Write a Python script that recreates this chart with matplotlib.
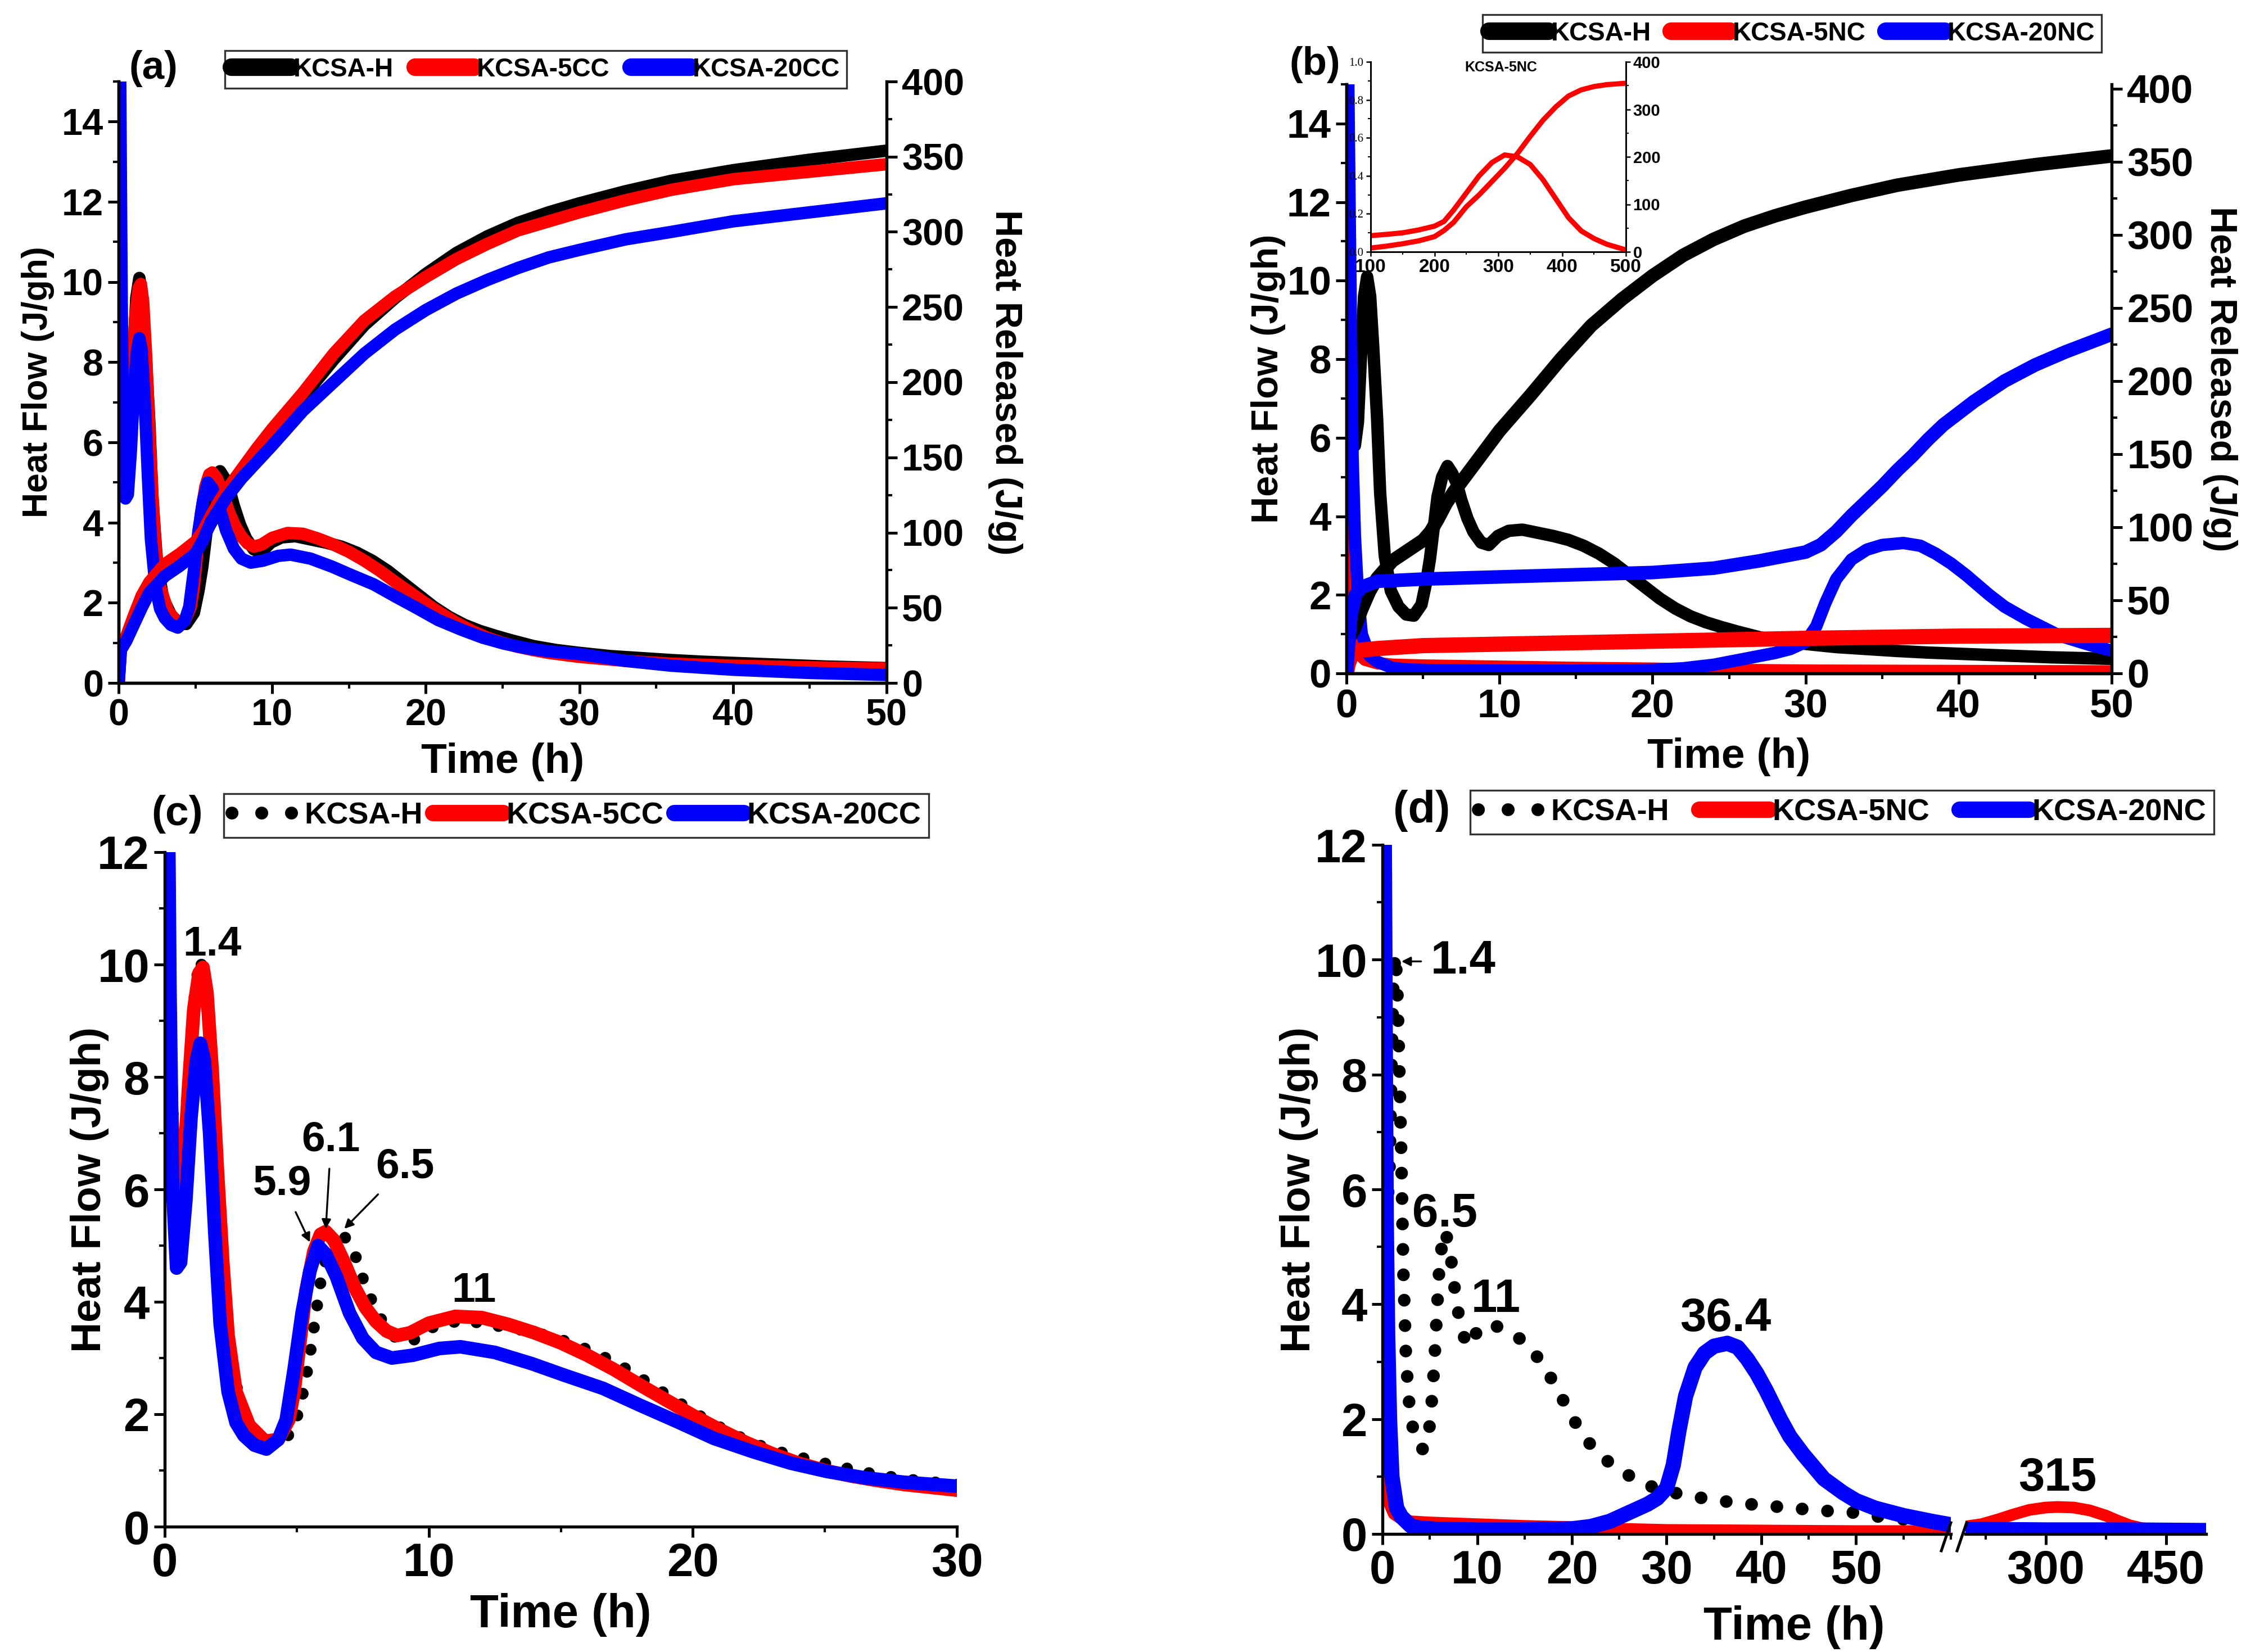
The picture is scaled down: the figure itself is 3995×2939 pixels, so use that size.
import matplotlib.pyplot as plt
from matplotlib.ticker import MultipleLocator
from matplotlib.lines import Line2D

plt.rcParams['font.weight'] = 'bold'
plt.rcParams['axes.labelweight'] = 'bold'
plt.rcParams['axes.linewidth'] = 1.3
plt.rcParams['lines.solid_joinstyle'] = 'round'
NARROW = ['Liberation Sans Narrow', 'Liberation Sans', 'DejaVu Sans']
WIDE = ['Liberation Sans', 'DejaVu Sans']
SERIF = ['Liberation Serif', 'DejaVu Serif']
plt.rcParams['font.family'] = WIDE

# ---------------- data ----------------
# KCSA-H heat flow (J/gh)
t_h = [0.03, 0.15, 0.35, 0.55, 0.75, 0.95, 1.15, 1.35, 1.55, 1.75, 2.0, 2.2, 2.5, 2.9, 3.4, 3.9, 4.4,
       4.9, 5.2, 5.45, 5.7, 5.95, 6.25, 6.6, 6.9, 7.2, 7.5, 7.9, 8.3, 8.8, 9.3, 9.9, 10.6, 11.5, 12.5,
       13.5, 14.5, 15.5, 16.5, 17.5, 18.5, 19.5, 20.5, 21.5, 22.5, 23.5, 24.5, 25.5, 27, 28.5, 30,
       32, 34, 36, 38, 40, 42, 44, 46, 48, 50, 52, 54, 56, 58]
hf_h = [14.5, 9.5, 6.8, 5.8, 6.4, 8.1, 9.6, 10.1, 9.6, 8.3, 6.5, 4.6, 3.0, 2.1, 1.7, 1.5, 1.47,
        1.75, 2.3, 2.9, 3.7, 4.5, 5.0, 5.28, 5.1, 4.85, 4.42, 3.95, 3.6, 3.33, 3.27, 3.5, 3.63, 3.66, 3.58,
        3.5, 3.4, 3.25, 3.05, 2.8, 2.5, 2.2, 1.9, 1.65, 1.45, 1.3, 1.18, 1.07, 0.92, 0.82, 0.75,
        0.67, 0.62, 0.57, 0.53, 0.5, 0.47, 0.44, 0.41, 0.39, 0.37, 0.31, 0.27, 0.24, 0.21]

# KCSA-5CC heat flow
t_5cc = [0.03, 0.1, 0.25, 0.4, 0.55, 0.7, 0.9, 1.1, 1.3, 1.45, 1.6, 1.8, 2.0, 2.2, 2.4, 2.7, 3.2,
         3.8, 4.3, 4.7, 4.9, 5.1, 5.35, 5.65, 5.9, 6.1, 6.4, 6.8, 7.2, 7.6, 8.0, 8.4, 8.8, 9.3, 10,
         11, 12, 13, 14, 15, 16, 17, 18, 19, 20, 21, 22, 23, 24, 25, 26, 27, 28, 29, 30, 33, 36, 40, 45, 50]
hf_5cc = [12.5, 10.5, 7.5, 6.0, 5.6, 6.2, 7.8, 9.2, 9.85, 9.95, 9.5, 8.1, 6.3, 4.7, 3.4, 2.4, 1.8,
          1.52, 1.55, 1.9, 2.4, 3.2, 4.2, 4.9, 5.2, 5.25, 5.1, 4.7, 4.25, 3.9, 3.65, 3.48, 3.4, 3.45, 3.62,
          3.74, 3.72, 3.6, 3.45, 3.27, 3.05, 2.8, 2.52, 2.25, 1.98, 1.73, 1.5, 1.3, 1.13, 1.0, 0.9, 0.82,
          0.75, 0.7, 0.65, 0.55, 0.48, 0.43, 0.39, 0.36]

# KCSA-20CC heat flow
t_20cc = [0.03, 0.1, 0.2, 0.3, 0.45, 0.6, 0.8, 1.0, 1.2, 1.35, 1.5, 1.7, 1.9, 2.1, 2.4, 2.7, 3.0,
          3.4, 3.85, 4.3, 4.6, 4.9, 5.2, 5.5, 5.8, 6.1, 6.5, 7.0, 7.5, 8.0, 8.6, 9.4, 10.4, 11.2, 12.5,
          13.9, 15.1, 16.6, 18.0, 19.4, 20.8, 22.3, 23.7, 25.1, 26.5, 28, 30, 33, 36, 40, 45, 50]
hf_20cc = [16, 15.2, 9.5, 6.0, 4.6, 4.7, 5.8, 7.3, 8.3, 8.6, 8.3, 7.0, 5.2, 3.6, 2.4, 1.85, 1.62,
           1.45, 1.38, 1.55, 1.9, 2.8, 3.8, 4.55, 5.0, 4.85, 4.45, 3.8, 3.35, 3.1, 3.0, 3.05, 3.17, 3.2, 3.1,
           2.9, 2.7, 2.46, 2.16, 1.87, 1.57, 1.33, 1.13, 0.98, 0.87, 0.79, 0.72, 0.55, 0.43, 0.33, 0.25, 0.2]

# cumulative heat released (J/g), panel (a) and KCSA-H in (b)
t_cum = [0, 0.15, 0.5, 1, 1.5, 2, 3, 4, 5, 5.5, 6, 6.5, 7, 8, 9, 10, 12, 14, 16, 18, 20, 22, 24, 26,
         28, 30, 33, 36, 40, 45, 50]
cum_h = [0, 24, 30, 44, 56, 65, 77, 84, 91, 97, 106, 116, 124, 138, 152, 166, 190, 215, 238, 256,
         272, 286, 297, 306, 313, 319, 327, 334, 341, 348, 354]
cum_5cc = [0, 25, 31, 45, 58, 67, 79, 86, 94, 101, 111, 120, 128, 142, 156, 169, 193, 219, 241, 257,
           270, 282, 292, 301, 307, 313, 321, 328, 335, 340, 345]
cum_20cc = [0, 22, 28, 39, 50, 60, 71, 78, 86, 95, 107, 115, 123, 136, 147, 158, 181, 200, 219, 235,
            248, 259, 268, 276, 283, 288, 295, 300, 307, 313, 319]

# KCSA-5NC heat flow (up to 500 h)
t_5nc = [0.01, 0.05, 0.1, 0.2, 0.35, 0.5, 0.8, 1.2, 2, 3, 5, 10, 15, 20, 25, 30, 40, 50, 60, 100,
         200, 220, 240, 260, 280, 300, 315, 335, 355, 375, 390, 405, 420, 440, 470, 500]
hf_5nc = [15.5, 12, 6, 2.5, 1.2, 0.75, 0.5, 0.35, 0.26, 0.22, 0.2, 0.17, 0.14, 0.12, 0.09, 0.07, 0.06,
          0.05, 0.05, 0.06, 0.13, 0.17, 0.25, 0.34, 0.42, 0.46, 0.47, 0.46, 0.41, 0.32, 0.23, 0.15, 0.1,
          0.07, 0.05, 0.04]

# KCSA-20NC heat flow (up to 500 h)
t_20nc = [0.03, 0.12, 0.2, 0.3, 0.4, 0.55, 0.75, 1.0, 1.5, 2, 3, 4, 6, 10, 15, 20, 22, 24, 26, 28,
          29, 30, 30.7, 31.3, 32, 33, 34, 35, 36.4, 37.5, 38.5, 39.5, 40.5, 42, 43, 44.4, 46.6, 48.6, 50,
          52, 55, 58, 60, 80, 200, 300, 400, 500]
hf_20nc = [15.5, 15, 12, 8.5, 5.5, 3.5, 2.0, 1.0, 0.45, 0.3, 0.14, 0.1, 0.08, 0.07, 0.07, 0.09, 0.13,
           0.22, 0.37, 0.52, 0.62, 0.8, 1.2, 1.8, 2.4, 2.9, 3.15, 3.27, 3.32, 3.25, 3.05, 2.8, 2.5, 2.0,
           1.7, 1.39, 0.96, 0.72, 0.58, 0.45, 0.32, 0.22, 0.16, 0.1, 0.08, 0.07, 0.07, 0.06]

# cumulative heat, panel (b)
tc_5nc = [0, 0.1, 0.3, 0.6, 1, 2, 5, 10, 20, 30, 40, 50]
cum_5nc = [0, 6, 12, 15, 16, 17, 19, 20, 22, 24, 25.5, 26]
tc_20nc = [0, 0.1, 0.3, 0.6, 1, 2, 5, 10, 15, 20, 24, 27, 30, 31, 32, 33, 34, 35, 36, 37, 38, 39,
           40, 41, 43, 45, 47, 50]
cum_20nc = [0, 15, 40, 54, 59, 63, 64.5, 66, 67.5, 69, 72, 77, 83, 88, 97, 108, 118, 128, 139, 149,
            160, 170, 178, 186, 200, 211, 220, 232]

# inset of (b): KCSA-5NC, 100-500 h
t_in = [100, 125, 150, 175, 200, 215, 230, 250, 270, 290, 310, 330, 350, 370, 390, 410, 430, 450,
        470, 490, 500]
hf_in = [0.085, 0.092, 0.1, 0.115, 0.135, 0.16, 0.22, 0.31, 0.4, 0.47, 0.51, 0.5, 0.46, 0.38, 0.28,
         0.18, 0.11, 0.07, 0.04, 0.02, 0.01]
cum_in = [8, 12, 17, 23, 32, 45, 62, 95, 120, 148, 176, 207, 243, 277, 305, 328, 341, 348, 352, 354, 355]

labels_cc = ['KCSA-H', 'KCSA-5CC', 'KCSA-20CC']
labels_nc = ['KCSA-H', 'KCSA-5NC', 'KCSA-20NC']
colors = ['black', 'red', 'blue']

# ---------------- layout ----------------
W, H = 3995, 2939
DPI = 300
fig = plt.figure(figsize=(W / DPI, H / DPI), dpi=DPI)


def rect(l, t, r, b):
    return [l / W, 1 - b / H, (r - l) / W, (b - t) / H]


def style(ax, size, keep_right=False):
    ax.spines['top'].set_visible(False)
    if not keep_right:
        ax.spines['right'].set_visible(False)
    ax.tick_params(which='major', direction='out', length=4.5, width=1.2, labelsize=size, pad=2)
    ax.tick_params(which='minor', direction='out', length=2.5, width=1.0)


def tick_font(ax, fam, weight='bold', axis='both'):
    labs = []
    if axis in ('both', 'x'):
        labs += ax.get_xticklabels()
    if axis in ('both', 'y'):
        labs += ax.get_yticklabels()
    for lab in labs:
        lab.set_fontfamily(fam)
        lab.set_fontweight(weight)


def legend(handles, labels, box, size, fam):
    l, t, r, b = box
    lg = fig.legend(handles, labels, loc='center', ncol=3, mode='expand',
                    bbox_to_anchor=(l / W, 1 - b / H, (r - l) / W, (b - t) / H),
                    prop=dict(family=fam, weight='bold', size=size), frameon=True, fancybox=False,
                    edgecolor='black', borderaxespad=0, handlelength=2.3, handletextpad=0.1,
                    columnspacing=0.3, borderpad=0.25)
    lg.get_frame().set_linewidth(0.8)
    return lg


LW = 5.3
dot = dict(ls=(0, (0.01, 1.9)), lw=5.0, dash_capstyle='round', color='black')

# ---------------- (a) ----------------
ax = fig.add_axes(rect(211, 145, 1577, 1215))
ax2 = ax.twinx()
for t, y, c in zip([t_h, t_5cc, t_20cc], [hf_h, hf_5cc, hf_20cc], colors):
    ax.plot(t, y, color=c, lw=LW, solid_capstyle='round')
for y, c in zip([cum_h, cum_5cc, cum_20cc], colors):
    ax2.plot(t_cum, y, color=c, lw=LW, solid_capstyle='round')
ax.set_xlim(0, 50)
ax.set_ylim(0, 15)
ax2.set_ylim(0, 400)
ax.xaxis.set_major_locator(MultipleLocator(10))
ax.xaxis.set_minor_locator(MultipleLocator(5))
ax.yaxis.set_major_locator(MultipleLocator(2))
ax.yaxis.set_minor_locator(MultipleLocator(1))
ax2.yaxis.set_major_locator(MultipleLocator(50))
ax2.yaxis.set_minor_locator(MultipleLocator(25))
style(ax, 16)
style(ax2, 16, keep_right=True)
tick_font(ax, NARROW)
tick_font(ax2, NARROW)
ax.set_xlabel('Time (h)', family=NARROW, size=18, labelpad=4)
ax.set_ylabel('Heat Flow (J/gh)', size=15, labelpad=3)
ax2.set_ylabel('Heat Released (J/g)', size=16, rotation=270, va='bottom', labelpad=10)
fig.text(273 / W, 1 - 122 / H, '(a)', family=NARROW, size=17, ha='center', va='center')
hd = [Line2D([], [], color=c, lw=7.5, solid_capstyle='round') for c in colors]
legend(hd, labels_cc, (400, 89, 1506, 158), 11, NARROW)

# ---------------- (b) ----------------
bx = fig.add_axes(rect(2395, 150, 3756, 1198))
bx2 = bx.twinx()
for t, y, c in zip([t_h, t_5nc, t_20nc], [hf_h, hf_5nc, hf_20nc], colors):
    bx.plot(t, y, color=c, lw=LW, solid_capstyle='round')
bx2.plot(t_cum, cum_h, color='black', lw=LW + 0.5, solid_capstyle='round')
bx2.plot(tc_5nc, cum_5nc, color='red', lw=6.5, solid_capstyle='round')
bx2.plot(tc_20nc, cum_20nc, color='blue', lw=LW + 0.5, solid_capstyle='round')
bx.set_xlim(0, 50)
bx.set_ylim(0, 15)
bx2.set_ylim(0, 403)
bx.xaxis.set_major_locator(MultipleLocator(10))
bx.xaxis.set_minor_locator(MultipleLocator(5))
bx.yaxis.set_major_locator(MultipleLocator(2))
bx.yaxis.set_minor_locator(MultipleLocator(1))
bx2.yaxis.set_major_locator(MultipleLocator(50))
bx2.yaxis.set_minor_locator(MultipleLocator(25))
style(bx, 17)
style(bx2, 17, keep_right=True)
tick_font(bx, NARROW)
tick_font(bx2, NARROW)
bx.set_xlabel('Time (h)', family=NARROW, size=18, labelpad=5)
bx.set_ylabel('Heat Flow (J/gh)', size=16, labelpad=0.5)
bx2.set_ylabel('Heat Released (J/g)', size=16, rotation=270, va='bottom', labelpad=4)
fig.text(2339 / W, 1 - 115 / H, '(b)', family=NARROW, size=17, ha='center', va='center')
legend(hd, labels_nc, (2637, 25, 3738, 94), 11, NARROW)

# inset
ix = fig.add_axes(rect(2438, 110, 2892, 448))
ix.patch.set_alpha(0)
ix2 = ix.twinx()
ix.plot(t_in, hf_in, color='red', lw=2.2)
ix2.plot(t_in, cum_in, color='red', lw=2.2)
ix.set_xlim(100, 500)
ix.set_ylim(0, 1.0)
ix2.set_ylim(0, 400)
ix.xaxis.set_major_locator(MultipleLocator(100))
ix.xaxis.set_minor_locator(MultipleLocator(50))
ix.yaxis.set_major_locator(MultipleLocator(0.2))
ix.yaxis.set_minor_locator(MultipleLocator(0.1))
ix.yaxis.set_major_formatter('{x:.1f}')
ix2.yaxis.set_major_locator(MultipleLocator(100))
ix2.yaxis.set_minor_locator(MultipleLocator(50))
for a, keep in ((ix, False), (ix2, True)):
    a.spines['top'].set_visible(False)
    if not keep:
        a.spines['right'].set_visible(False)
    for s in a.spines.values():
        s.set_linewidth(0.7)
    a.tick_params(which='major', direction='out', length=2, width=0.6, pad=1)
    a.tick_params(which='minor', direction='out', length=1.2, width=0.5)
ix.tick_params(axis='x', labelsize=8)
ix.tick_params(axis='y', labelsize=5)
ix2.tick_params(axis='y', labelsize=7)
tick_font(ix, NARROW, axis='x')
tick_font(ix, SERIF, weight='normal', axis='y')
tick_font(ix2, NARROW, axis='y')
fig.text(2670 / W, 1 - 120 / H, 'KCSA-5NC', family=NARROW, size=6, ha='center', va='center')

# ---------------- (c) ----------------
cx = fig.add_axes(rect(293, 1516, 1702, 2716))
cx.plot(t_h, hf_h, **dot)
cx.plot(t_5cc, hf_5cc, color='red', lw=LW + 0.5, solid_capstyle='round')
cx.plot(t_20cc, hf_20cc, color='blue', lw=LW + 0.5, solid_capstyle='round')
cx.set_xlim(0, 30)
cx.set_ylim(0, 12)
cx.xaxis.set_major_locator(MultipleLocator(10))
cx.xaxis.set_minor_locator(MultipleLocator(5))
cx.yaxis.set_major_locator(MultipleLocator(2))
cx.yaxis.set_minor_locator(MultipleLocator(1))
style(cx, 20)
tick_font(cx, NARROW)
cx.set_xlabel('Time (h)', family=NARROW, size=20, labelpad=3)
cx.set_ylabel('Heat Flow (J/gh)', size=18, labelpad=-5)
fig.text(315 / W, 1 - 1449 / H, '(c)', size=18, ha='center', va='center')
arr = dict(arrowstyle='-|>', lw=0.8, color='black', mutation_scale=8, shrinkA=2, shrinkB=0)
cx.text(1.8, 10.36, '1.4', family=NARROW, size=18, ha='center', va='center')
cx.annotate('5.9', xy=(5.5, 5.06), xytext=(4.45, 6.1), family=NARROW, size=18, ha='center',
            va='center', arrowprops=arr)
cx.annotate('6.1', xy=(6.1, 5.3), xytext=(6.3, 6.88), family=NARROW, size=18, ha='center',
            va='center', arrowprops=arr)
cx.annotate('6.5', xy=(6.8, 5.3), xytext=(9.1, 6.4), family=NARROW, size=18, ha='center',
            va='center', arrowprops=arr)
cx.text(11.7, 4.2, '11', family=NARROW, size=18, ha='center', va='center')
hd2 = [Line2D([], [], ls=(0, (0.01, 2.3)), lw=5.5, dash_capstyle='round', color='black'),
       Line2D([], [], color='red', lw=7, solid_capstyle='round'),
       Line2D([], [], color='blue', lw=7, solid_capstyle='round')]
legend(hd2, labels_cc, (398, 1406, 1652, 1496), 13, WIDE)

# ---------------- (d) broken x axis ----------------
d1 = fig.add_axes(rect(2459, 1503, 3470, 2729))
d2 = fig.add_axes(rect(3496, 1503, 3924, 2729), sharey=d1)
for a in (d1, d2):
    a.plot(t_h, hf_h, **dict(dot, lw=5.4, ls=(0, (0.01, 2.0))))
    a.plot(t_5nc, hf_5nc, color='red', lw=5, solid_capstyle='round')
    a.plot(t_20nc, hf_20nc, color='blue', lw=6.5, solid_capstyle='round')
d1.set_xlim(0, 60)
d2.set_xlim(200, 500)
d1.set_ylim(0, 12)
d1.set_xticks([0, 10, 20, 30, 40, 50])
d1.xaxis.set_minor_locator(MultipleLocator(5))
d1.yaxis.set_major_locator(MultipleLocator(2))
d1.yaxis.set_minor_locator(MultipleLocator(1))
d2.xaxis.set_major_locator(MultipleLocator(150))
d2.xaxis.set_minor_locator(MultipleLocator(75))
style(d1, 20)
style(d2, 20)
d2.spines['left'].set_visible(False)
d2.tick_params(axis='y', which='both', left=False, labelleft=False)
tick_font(d1, NARROW)
tick_font(d2, NARROW, axis='x')
d1.set_ylabel('Heat Flow (J/gh)', size=18, labelpad=-1.5)
fig.text((2459 + 3924) / 2 / W, 1 - 2895 / H, 'Time (h)', family=NARROW, size=20,
         ha='center', va='center')
fig.text(2529 / W, 1 - 1443 / H, '(d)', size=19, ha='center', va='center')
# break marks
for x0 in (3453, 3481):
    fig.add_artist(Line2D([x0 / W, (x0 + 17) / W], [1 - 2759 / H, 1 - 2709 / H],
                          color='black', lw=1.2))
d1.annotate('1.4', xy=(2.0, 9.97), xytext=(8.5, 9.97), family=NARROW, size=20, ha='center',
            va='center', arrowprops=arr)
d1.text(6.6, 5.57, '6.5', family=NARROW, size=20, ha='center', va='center')
d1.text(12, 4.08, '11', family=NARROW, size=20, ha='center', va='center')
d1.text(36.2, 3.75, '36.4', family=NARROW, size=20, ha='center', va='center')
d2.text(315, 0.97, '315', family=NARROW, size=20, ha='center', va='center')
legend(hd2, labels_nc, (2615, 1400, 3938, 1490), 13, WIDE)

fig.savefig('out.png', dpi=DPI, facecolor='white')
